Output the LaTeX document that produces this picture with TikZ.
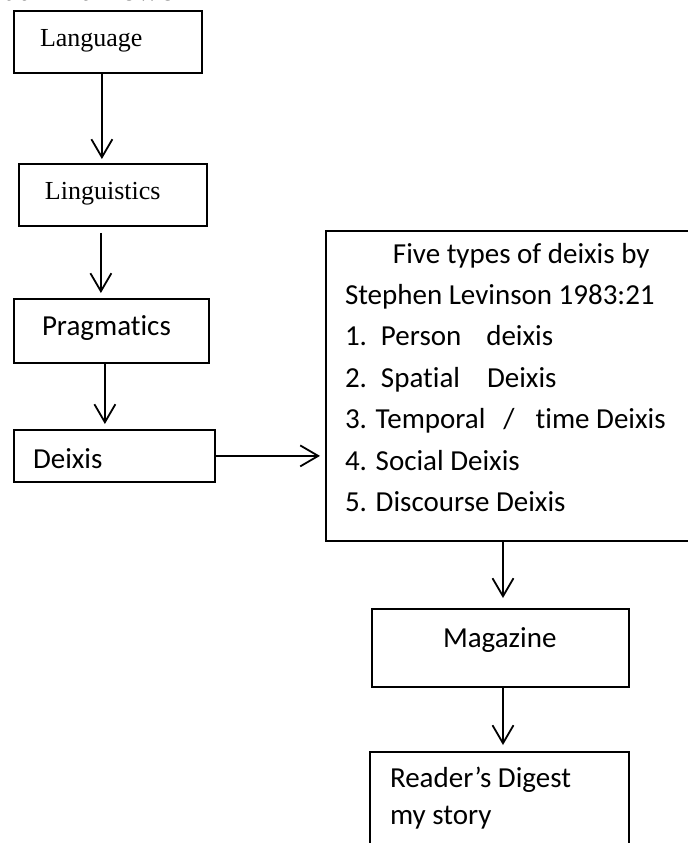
\documentclass[tikz,border=0pt]{standalone}
\usepackage{fontspec}
\setmainfont{Liberation Serif}
\newfontfamily\calib[Ligatures=NoCommon]{Carlito}
\usetikzlibrary{arrows.meta}
\tikzset{
  box/.style={draw=black, line width=0.9pt, rectangle, anchor=north west, inner sep=0pt},
  txt/.style={anchor=base west, inner sep=0pt, outer sep=0pt},
  serif/.style={font=\fontsize{13pt}{15pt}\selectfont},
  sans/.style={font=\calib\fontsize{14.5pt}{20.7pt}\selectfont},
  arr/.style={line width=0.9pt, -{Straight Barb[length=9pt,width=10.5pt,line width=0.9pt]}}
}
\begin{document}
\begin{tikzpicture}[x=0.5pt,y=-0.5pt]
\useasboundingbox (0,0) rectangle (688,843);
\clip (0,0) rectangle (688,843);
\fill[white] (0,0) rectangle (688,843);
% heading (cut off at the top)
\node[anchor=base east, inner sep=0pt, font=\fontsize{16.5pt}{18pt}\selectfont] (head) at (204,0) {ual Framework};
% boxes
\node[box, minimum width=94pt, minimum height=31pt] (lang) at (13,10) {};
\node[box, minimum width=94pt, minimum height=31pt] (ling) at (18,163) {};
\node[box, minimum width=97.5pt, minimum height=32pt] (prag) at (13,298) {};
\node[box, minimum width=100.5pt, minimum height=26pt] (deix) at (13,429) {};
\node[box, minimum width=200pt, minimum height=155pt] (five) at (325,230) {};
\node[box, minimum width=128.5pt, minimum height=39pt] (mag) at (371,608) {};
\node[box, minimum width=129.5pt, minimum height=60pt] (read) at (369,751) {};
% texts
\node[txt, serif] (langt) at (40,46) {Language};
\node[txt, serif] (lingt) at (45,199) {Linguistics};
\node[txt, sans] (pragt) at (42,335) {Pragmatics};
\node[txt, sans] (deixt) at (33,468) {Deixis};
\node[txt, sans] (f1) at (393,263) {Five types of deixis by};
\node[txt, sans] (f2) at (345,304.4) {Stephen Levinson 1983:21};
\node[txt, sans] (f3) at (345,345.8) {1.\hspace{7pt}Person\hspace{12.5pt}deixis};
\node[txt, sans] (f4) at (345,387.2) {2.\hspace{7pt}Spatial\hspace{13.5pt}Deixis};
\node[txt, sans] (f5) at (345,428.6) {3. Temporal\hspace{9pt}/\hspace{10.5pt}time Deixis};
\node[txt, sans] (f6) at (345,470) {4. Social Deixis};
\node[txt, sans] (f7) at (345,511.4) {5. Discourse Deixis};
\node[txt, sans] (magt) at (443,647) {Magazine};
\node[txt, sans] (readt1) at (390,787) {Reader’s Digest};
\node[txt, sans] (readt2) at (390,824) {my story};
% connectors
\draw[arr, shorten >=2pt] ([xshift=-3pt]lang.south) -- ([xshift=-3pt]lang.south |- ling.north);
\draw[arr, shorten <=3pt, shorten >=2.5pt] ([xshift=-6pt]ling.south) -- ([xshift=-6pt]ling.south |- prag.north);
\draw[arr, shorten >=2.5pt] ([xshift=-3.25pt]prag.south) -- ([xshift=-3.25pt]prag.south |- deix.north);
\draw[arr, shorten >=2.5pt] (deix.east) -- (deix.east -| five.west);
\coordinate (mtop) at (mag.north -| 503,0);
\draw[arr, shorten >=5pt] (mtop |- five.south) -- (mtop);
\draw[arr, shorten >=3pt] (mag.south -| mtop) -- (read.north -| mtop);
\end{tikzpicture}
\end{document}
